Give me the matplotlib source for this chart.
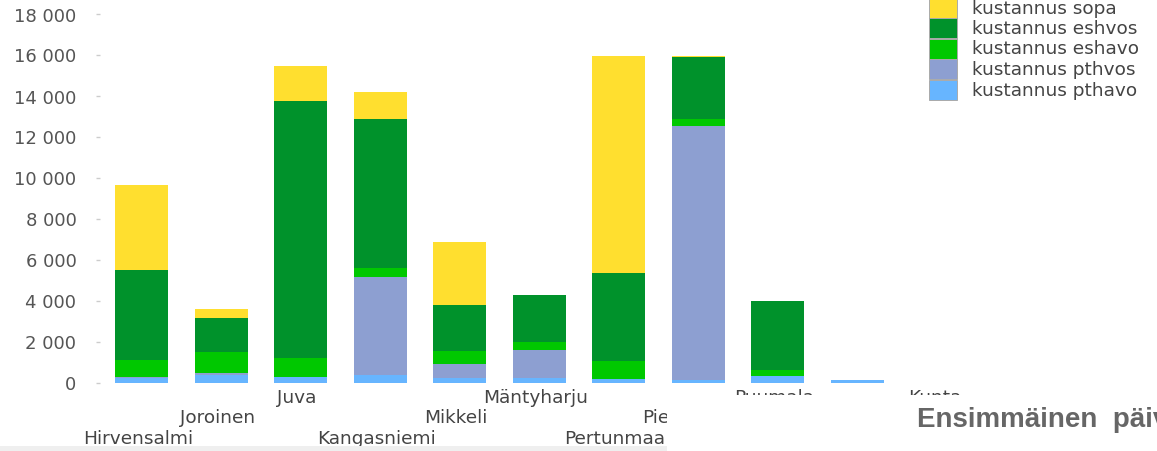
import matplotlib
matplotlib.use('Agg')
import matplotlib.pyplot as plt
from matplotlib.patches import Rectangle
import matplotlib.transforms as mtransforms
import numpy as np

plt.rcParams['font.family'] = ['DejaVu Sans']

# ---------------- data ----------------
categories = ["Hirvensalmi", "Joroinen", "Juva", "Kangasniemi", "Mikkeli",
              "Mäntyharju", "Pertunmaa", "Pieksämäki", "Puumala", "Rantasalmi"]
pthavo = [200, 380, 270, 380, 205, 205, 160, 120, 330, 120]
pthvos = [50, 80, 0, 4750, 700, 1380, 0, 12390, 0, 0]
eshavo = [830, 1010, 925, 455, 635, 390, 900, 340, 290, 0]
eshvos = [4400, 1690, 12520, 7270, 2230, 2290, 4300, 3010, 3370, 0]
sopa = [4150, 420, 1710, 1300, 3070, 0, 10570, 60, 0, 0]

series_names = ["kustannus pthavo", "kustannus pthvos", "kustannus eshavo",
                "kustannus eshvos", "kustannus sopa"]
series_values = [pthavo, pthvos, eshavo, eshvos, sopa]
series_colors = ["#67B5FF", "#8D9FD1", "#00C800", "#00922B", "#FFDF2F"]

y_ticks = [0, 2000, 4000, 6000, 8000, 10000, 12000, 14000, 16000, 18000]
axis_title = "Kunta"
page_title = "Ensimmäinen  päivä"

# ---------------- layout ----------------
W, H = 1157, 452
fig = plt.figure(figsize=(W / 100, H / 100), dpi=100)


def fx(px):
    return px / W


def fy(py):
    return 1 - py / H


base_px = 383.5
ax = fig.add_axes([fx(100), fy(base_px), fx(W - 100), base_px / H])

spacing = 79.5
first_center = 141.7
ax.set_xlim((100 - first_center) / spacing, (W - first_center) / spacing)
ax.set_ylim(0, base_px / 0.0205)

x = np.arange(len(categories))
bottom = np.zeros(len(categories))
for vals, col in zip(series_values, series_colors):
    v = np.array(vals, dtype=float)
    ax.bar(x, v, width=0.67, bottom=bottom, color=col, linewidth=0)
    bottom += v

for s in ax.spines.values():
    s.set_visible(False)
ax.set_xticks([])
ax.set_yticks(y_ticks)
ax.set_yticklabels([f"{t:,}".replace(",", " ") for t in y_ticks])
ax.tick_params(axis='y', length=3, width=1, color='#cccccc', pad=14,
               labelsize=13, labelcolor='#555555')
ax.patch.set_alpha(0)

# staggered category labels
row_baselines = {0: 444, 1: 423.5, 2: 403}
trans = mtransforms.blended_transform_factory(ax.transData, fig.transFigure) + \
    mtransforms.ScaledTranslation(-4 / 100, 0, fig.dpi_scale_trans)
for i, name in enumerate(categories):
    ax.text(i, fy(row_baselines[i % 3]), name, ha='center', va='baseline',
            transform=trans, fontsize=13.3, color='#444444', clip_on=False)

fig.text(fx(934.5), fy(403), axis_title, ha='center', va='baseline',
         fontsize=13.3, color='#444444')

# overlay panel (covers lower right part of labels)
fig.add_artist(Rectangle((fx(667), 0), 1 - fx(667), fy(395.5),
                         transform=fig.transFigure, facecolor='white',
                         edgecolor='none', zorder=10))
fig.add_artist(Rectangle((0, 0), fx(667), 5 / H, transform=fig.transFigure,
                         facecolor='#efefef', edgecolor='none', zorder=10))
fig.text(fx(917), fy(427), page_title, fontsize=20, fontweight='bold',
         color='#666666', family='Liberation Sans', va='baseline', zorder=11)

# legend (top -> bottom is reverse of stacking order)
centers = [8.5, 29, 49.5, 70, 90.5]
for yc, name, col in zip(centers, series_names[::-1], series_colors[::-1]):
    fig.add_artist(Rectangle((fx(928.5), fy(yc + 10)), fx(28.5), 20 / H,
                             transform=fig.transFigure, facecolor=col,
                             edgecolor='#aaaaaa', linewidth=0.7, zorder=5))
    fig.text(fx(972), fy(yc + 5), name, fontsize=13.3, color='#444444',
             va='baseline', ha='left')

fig.savefig("out.png", dpi=100)
